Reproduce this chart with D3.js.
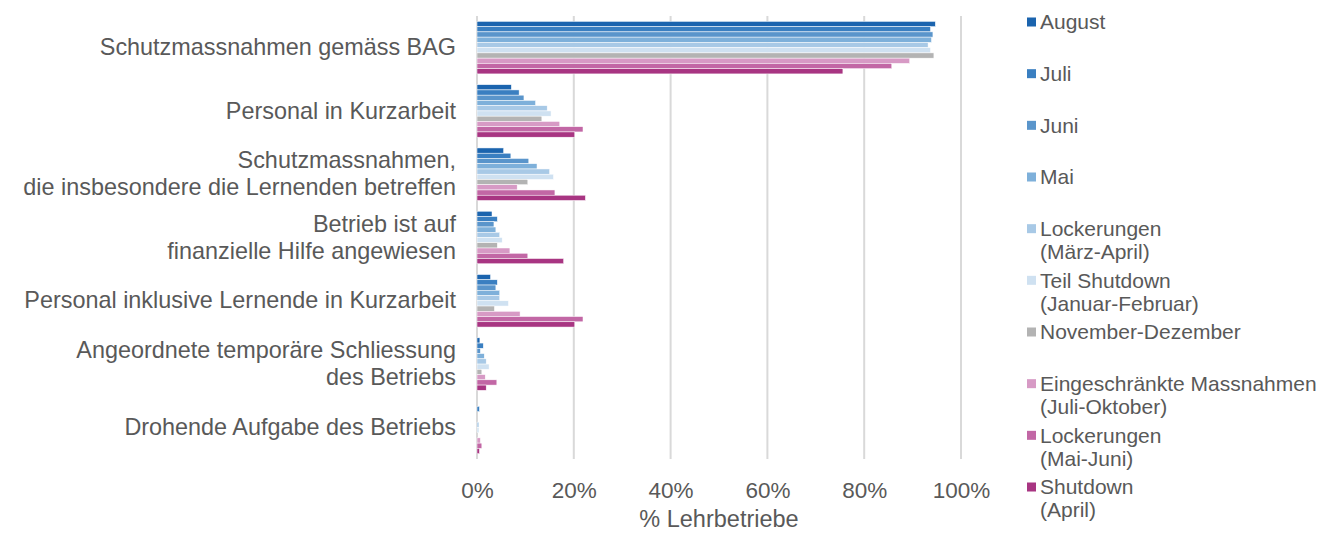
<!DOCTYPE html>
<html>
<head>
<meta charset="utf-8">
<script src="https://cdn.jsdelivr.net/npm/d3@7"></script>
<style>
  html, body { margin: 0; padding: 0; background: #fff; }
  svg text { font-family: "Liberation Sans", Arial, sans-serif; fill: #595959; }
</style>
</head>
<body>
<svg id="chart"></svg>
<script>
const width = 1320, height = 533;

// categories top to bottom, each label split into lines
const categories = [
  ["Schutzmassnahmen gemäss BAG"],
  ["Personal in Kurzarbeit"],
  ["Schutzmassnahmen,", "die insbesondere die Lernenden betreffen"],
  ["Betrieb ist auf", "finanzielle Hilfe angewiesen"],
  ["Personal inklusive Lernende in Kurzarbeit"],
  ["Angeordnete temporäre Schliessung", "des Betriebs"],
  ["Drohende Aufgabe des Betriebs"]
];

// series in drawing order (top bar of each group first)
const seriesNames = [
  ["August"],
  ["Juli"],
  ["Juni"],
  ["Mai"],
  ["Lockerungen", "(März-April)"],
  ["Teil Shutdown", "(Januar-Februar)"],
  ["November-Dezember"],
  ["Eingeschränkte Massnahmen", "(Juli-Oktober)"],
  ["Lockerungen", "(Mai-Juni)"],
  ["Shutdown", "(April)"]
];
const seriesColors = ["#1b64ae", "#3a7fc1", "#5a95cb", "#7eb0da", "#a8c9e6",
                      "#cfe1f1", "#b3b3b3", "#d79ac5", "#c267a5", "#a83582"];

// share of training companies (%), one array per series, in category order
const august    = [94.7,  7.1,  5.5,  3.1, 2.8, 0.6, 0.0];
const juli      = [93.7,  8.7,  7.0,  4.2, 4.2, 1.3, 0.5];
const juni      = [94.2,  9.7, 10.7,  3.5, 3.9, 0.7, 0.0];
const mai       = [93.9, 12.1, 12.4,  3.9, 4.7, 1.5, 0.0];
const lockMA    = [93.2, 14.5, 15.0,  4.7, 4.7, 1.9, 0.4];
const teilShut  = [93.7, 15.3, 15.8,  5.2, 6.5, 2.5, 0.4];
const novDez    = [94.4, 13.4, 10.5,  4.2, 3.6, 1.0, 0.0];
const eingeschr = [89.4, 17.1,  8.3,  6.8, 8.9, 1.7, 0.7];
const lockMJ    = [85.7, 21.9, 16.1, 10.5, 21.9, 4.1, 1.0];
const shutdown  = [75.6, 20.2, 22.4, 17.9, 20.2, 1.9, 0.5];
const seriesValues = [august, juli, juni, mai, lockMA, teilShut, novDez, eingeschr, lockMJ, shutdown];

const xTicks = [0, 0.2, 0.4, 0.6, 0.8, 1.0];

const svg = d3.select("#chart").attr("width", width).attr("height", height);

const x = d3.scaleLinear().domain([0, 1]).range([477, 961]);
const y = d3.scaleBand()
  .domain(d3.range(categories.length))
  .range([16, 459])
  .paddingInner(0.17)
  .paddingOuter(0.085);
const ySeries = d3.scaleBand()
  .domain(d3.range(seriesNames.length))
  .range([0, y.bandwidth()]);

// gridlines
svg.append("g").selectAll("line")
  .data(xTicks)
  .join("line")
  .attr("x1", d => x(d)).attr("x2", d => x(d))
  .attr("y1", 16).attr("y2", 459)
  .attr("stroke", "#d9d9d9")
  .attr("stroke-width", 2);

// bars
const groups = svg.append("g").selectAll("g")
  .data(categories)
  .join("g")
  .attr("transform", (d, i) => `translate(0,${y(i)})`);

groups.selectAll("rect")
  .data((d, ci) => seriesValues.map((vals, si) => ({ si: si, v: vals[ci] })))
  .join("rect")
  .attr("x", x(0))
  .attr("y", d => ySeries(d.si))
  .attr("width", d => x(d.v / 100) - x(0))
  .attr("height", ySeries.bandwidth())
  .attr("fill", d => seriesColors[d.si])
  .attr("stroke", "#fff")
  .attr("stroke-width", 0.5);

// category labels
const catLabels = svg.append("g").selectAll("text")
  .data(categories)
  .join("text")
  .attr("text-anchor", "end")
  .attr("font-size", 23.4)
  .attr("x", 456)
  .attr("y", (d, i) => y(i) + y.bandwidth() / 2 - 0.5 - (d.length - 1) * 13.5);

catLabels.selectAll("tspan")
  .data(d => d)
  .join("tspan")
  .attr("x", 456)
  .attr("dy", (d, i) => i === 0 ? "0.35em" : 27)
  .text(d => d);

// x axis labels
const xAxis = svg.append("g")
  .attr("transform", "translate(0,474)")
  .call(d3.axisBottom(x).tickValues(xTicks).tickFormat(d3.format(".0%")).tickSize(0).tickPadding(8));
xAxis.select(".domain").remove();
xAxis.selectAll("text")
  .attr("font-size", 22.5)
  .attr("font-family", null)
  .attr("fill", null);

svg.append("text")
  .attr("x", x(0.5))
  .attr("y", 519)
  .attr("dy", "0.35em")
  .attr("text-anchor", "middle")
  .attr("font-size", 23.5)
  .text("% Lehrbetriebe");

// legend
const legendY = d3.scaleLinear().domain([0, seriesNames.length - 1]).range([22, 487]);
const legend = svg.append("g").selectAll("g")
  .data(seriesNames)
  .join("g")
  .attr("transform", (d, i) => `translate(1027,${legendY(i)})`);

legend.append("rect")
  .attr("x", 0).attr("y", -4.5)
  .attr("width", 9).attr("height", 9)
  .attr("fill", (d, i) => seriesColors[i]);

legend.append("text")
  .attr("font-size", 21)
  .selectAll("tspan")
  .data(d => d)
  .join("tspan")
  .attr("x", 13)
  .attr("dy", (d, i) => i === 0 ? "0.35em" : 23)
  .text(d => d);
</script>
</body>
</html>
